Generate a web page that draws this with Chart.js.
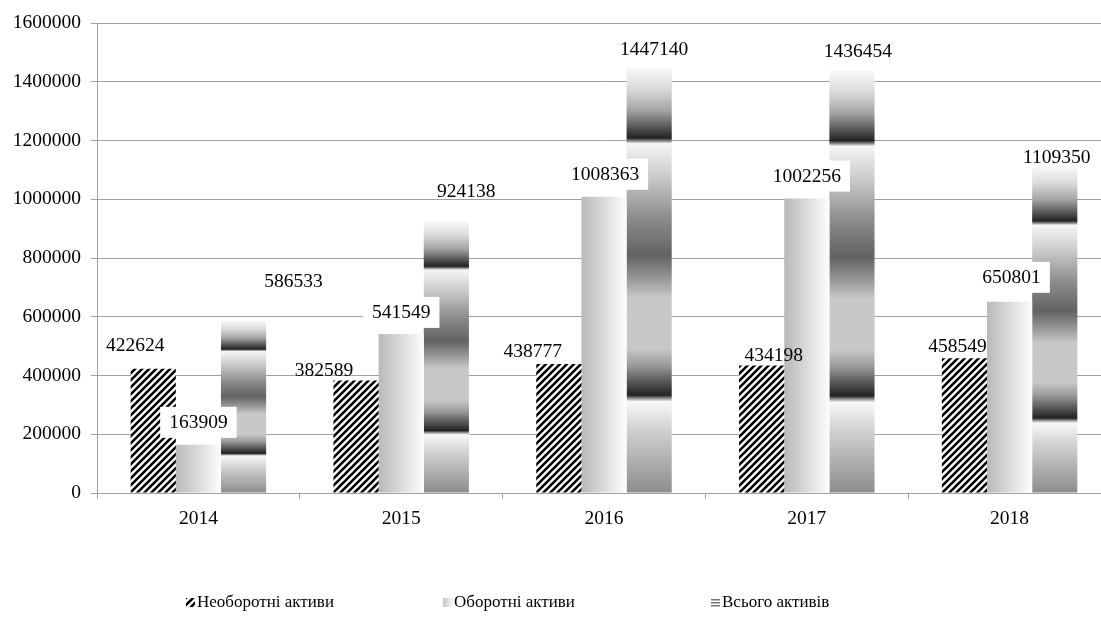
<!DOCTYPE html>
<html>
<head>
<meta charset="utf-8">
<script src="https://cdn.jsdelivr.net/npm/chart.js@4.4.1/dist/chart.umd.min.js"></script>
<style>
  html, body { margin: 0; padding: 0; background: #fff; overflow: hidden; }
  #wrap { position: absolute; left: 0; top: 0; width: 1111px; height: 621px; }
</style>
</head>
<body>
<div id="wrap"><canvas id="assetsChart"></canvas></div>
<script>
const years = ["2014", "2015", "2016", "2017", "2018"];
const nonCurrent = [422624, 382589, 438777, 434198, 458549];
const current = [163909, 541549, 1008363, 1002256, 650801];
const totalAssets = [586533, 924138, 1447140, 1436454, 1109350];
const seriesNames = ["Необоротні активи", "Оборотні активи", "Всього активів"];
const yMax = 1600000;
const yStep = 200000;

// where each value label sits, relative to the top centre of its bar
const labelNudge = [
  [[-18, -23], [-32, -10], [-26, -12], [12, -10], [-7, -11]],
  [[0, -22], [0, -21], [1, -22], [0, -22], [2, -24]],
  [[50, -39], [20, -30], [5, -18], [6, -19], [2, -9]]
];
const legendX = [186, 443, 711];

const FONT = '"Liberation Serif", "Times New Roman", serif';
const GRID = "#a0a0a0";
const GROUP = 0.668;

const canvas = document.getElementById("assetsChart");
const ctx = canvas.getContext("2d");

function makeHatch() {
  const c = document.createElement("canvas");
  c.width = 7;
  c.height = 7;
  const g = c.getContext("2d");
  g.fillStyle = "#fff";
  g.fillRect(0, 0, 7, 7);
  g.strokeStyle = "#000";
  g.lineWidth = 2.6;
  g.beginPath();
  g.moveTo(0, 7); g.lineTo(7, 0);
  g.moveTo(-1, 1); g.lineTo(1, -1);
  g.moveTo(6, 8); g.lineTo(8, 6);
  g.stroke();
  return ctx.createPattern(c, "repeat");
}
const hatch = makeHatch();

// banded grey fill of the totals, top of bar = 0, base = 1
const totalStops = [
  [0.0, "#f8f8f8"], [0.05, "#dadada"], [0.1, "#a4a4a4"], [0.14, "#555"],
  [0.165, "#222"], [0.172, "#8a8a8a"], [0.178, "#f6f6f6"], [0.19, "#efefef"],
  [0.26, "#c8c8c8"], [0.35, "#8e8e8e"], [0.44, "#626262"], [0.5, "#9c9c9c"],
  [0.54, "#c8c8c8"], [0.66, "#c8c8c8"], [0.7, "#9a9a9a"], [0.74, "#555"],
  [0.77, "#222"], [0.777, "#8a8a8a"], [0.785, "#f8f8f8"], [0.85, "#d2d2d2"],
  [1.0, "#8c8c8c"]
];

function barLeft(chart, ds, i) {
  const xs = chart.scales.x;
  const w = xs.width / years.length * GROUP / 3;
  return xs.getPixelForValue(i) + (ds - 1.5) * w;
}

function currentFill(context) {
  const chart = context.chart;
  if (!chart.chartArea || context.type !== "data") return "#d8d8d8";
  const xs = chart.scales.x;
  const w = xs.width / years.length * GROUP / 3;
  const left = barLeft(chart, 1, context.dataIndex);
  const g = chart.ctx.createLinearGradient(left, 0, left + w, 0);
  g.addColorStop(0, "#b9b9b9");
  g.addColorStop(1, "#fdfdfd");
  return g;
}

function totalFill(context) {
  const chart = context.chart;
  if (!chart.chartArea || context.type !== "data") return "#9a9a9a";
  const ys = chart.scales.y;
  const top = ys.getPixelForValue(totalAssets[context.dataIndex]);
  const base = ys.getPixelForValue(0);
  const g = chart.ctx.createLinearGradient(0, top, 0, base);
  totalStops.forEach(([p, c]) => g.addColorStop(p, c));
  return g;
}

const valueLabels = {
  id: "valueLabels",
  afterDatasetsDraw(chart) {
    const c = chart.ctx;
    c.save();
    c.font = "19.5px " + FONT;
    c.textAlign = "center";
    c.textBaseline = "middle";
    chart.data.datasets.forEach((ds, i) => {
      chart.getDatasetMeta(i).data.forEach((bar, j) => {
        const [dx, dy] = labelNudge[i][j];
        const x = bar.x + dx;
        const y = bar.y + dy;
        const text = String(ds.data[j]);
        if (i === 1) {
          const w = c.measureText(text).width + 18;
          c.fillStyle = "#fff";
          c.fillRect(x - w / 2, y - 16, w, 31);
        }
        c.fillStyle = "#000";
        c.fillText(text, x, y);
      });
    });
    c.restore();
  }
};

function drawLegendIcon(c, i, x, y) {
  const s = 9;
  const top = y - 5;
  if (i === 0) {
    c.fillStyle = hatch;
    c.fillRect(x, top, s, s);
  } else if (i === 1) {
    const g = c.createLinearGradient(x, 0, x + s, 0);
    g.addColorStop(0, "#c4c4c4");
    g.addColorStop(1, "#f4f4f4");
    c.fillStyle = g;
    c.fillRect(x, top, s, s);
  } else {
    c.fillStyle = "#fff";
    c.fillRect(x, top, s, s);
    c.fillStyle = "#777";
    for (let k = 0; k < 3; k++) c.fillRect(x, top + 1 + k * 3, s, 1.5);
  }
}

const legendRow = {
  id: "legendRow",
  afterDraw(chart) {
    const c = chart.ctx;
    c.save();
    c.font = "17px " + FONT;
    c.textBaseline = "middle";
    c.textAlign = "left";
    seriesNames.forEach((name, i) => {
      drawLegendIcon(c, i, legendX[i], 603);
      c.fillStyle = "#000";
      c.fillText(name, legendX[i] + 11, 603);
    });
    c.restore();
  }
};

new Chart(ctx, {
  type: "bar",
  data: {
    labels: years,
    datasets: [
      { label: seriesNames[0], data: nonCurrent, backgroundColor: hatch },
      { label: seriesNames[1], data: current, backgroundColor: currentFill },
      { label: seriesNames[2], data: totalAssets, backgroundColor: totalFill }
    ]
  },
  options: {
    responsive: true,
    maintainAspectRatio: false,
    animation: false,
    devicePixelRatio: 1,
    datasets: {
      bar: { categoryPercentage: GROUP, barPercentage: 1, borderWidth: 0 }
    },
    layout: { padding: { top: 23, bottom: 39, left: 0, right: 0 } },
    plugins: {
      legend: { display: false },
      tooltip: { enabled: false }
    },
    scales: {
      x: {
        grid: { drawOnChartArea: false, color: GRID, tickLength: 6 },
        border: { color: GRID },
        ticks: { color: "#000", font: { family: FONT, size: 19.5 }, padding: 8 },
        afterFit(scale) { scale.height = 89; }
      },
      y: {
        min: 0,
        max: yMax,
        grid: { color: GRID, tickLength: 6 },
        border: { color: GRID },
        ticks: {
          stepSize: yStep,
          color: "#000",
          font: { family: FONT, size: 19.5 },
          padding: 10,
          callback: (v) => String(v)
        },
        afterFit(scale) { scale.width = 97; }
      }
    }
  },
  plugins: [valueLabels, legendRow]
});
</script>
</body>
</html>
